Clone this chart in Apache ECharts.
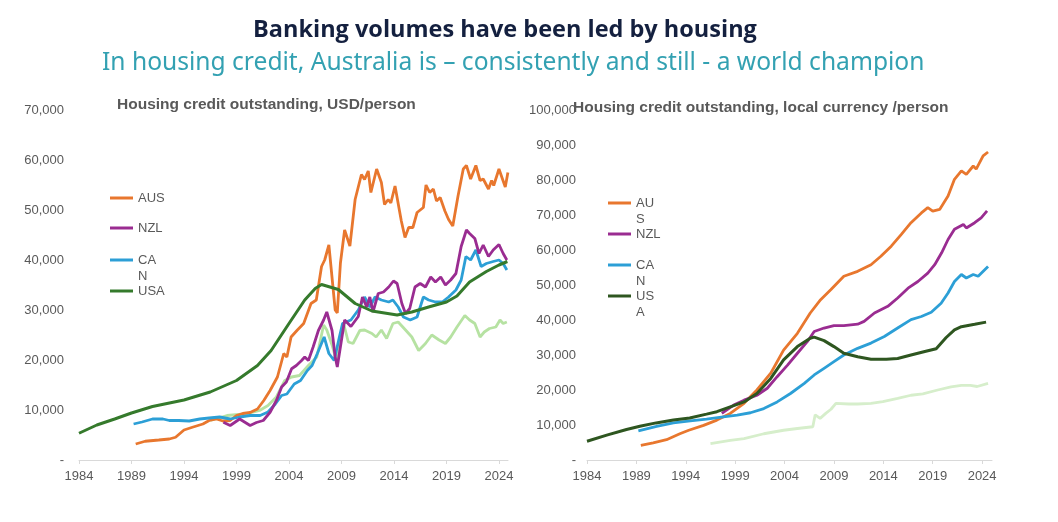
<!DOCTYPE html>
<html>
<head>
<meta charset="utf-8">
<script src="https://cdn.jsdelivr.net/npm/echarts@6/dist/echarts.min.js"></script>
<style>
  html, body { margin: 0; padding: 0; background: #fff; }
  #chart { width: 1058px; height: 522px; }
</style>
</head>
<body>
<div id="chart"></div>
<script>
// tick labels
var yearTicks = [1984, 1989, 1994, 1999, 2004, 2009, 2014, 2019, 2024];

// left chart: housing credit, USD per person  [year, value]
var ausUsd = [[1989.4,3200],[1990.3,3750],[1991.6,4000],[1992.6,4200],[1993.2,4550],[1994.0,6000],[1994.8,6550],[1995.8,7200],[1996.4,7900],[1997.1,8200],[1997.7,7800],[1998.4,7900],[1999.0,8900],[1999.6,9300],[2000.3,9500],[2001.0,10200],[2001.6,11900],[2002.2,13900],[2002.9,16600],[2003.5,21300],[2003.8,20600],[2004.2,24600],[2004.8,26000],[2005.4,27300],[2006.1,31300],[2006.6,32000],[2007.1,38700],[2007.4,40000],[2007.8,43000],[2008.4,30000],[2008.6,29400],[2008.9,39400],[2009.3,46000],[2009.8,42800],[2010.3,52100],[2010.9,57100],[2011.2,56100],[2011.55,57800],[2011.8,53500],[2012.35,58200],[2012.8,55500],[2013.1,51100],[2013.45,52100],[2013.7,51400],[2014.1,54800],[2014.7,47800],[2015.05,44500],[2015.4,46500],[2015.8,46500],[2016.2,49500],[2016.8,50500],[2017.05,55000],[2017.4,53500],[2017.75,54200],[2018.05,51800],[2018.4,52500],[2018.85,49800],[2019.2,48100],[2019.6,46800],[2020.1,52800],[2020.6,58200],[2020.9,58900],[2021.3,56200],[2021.8,58900],[2022.2,55900],[2022.5,56200],[2023.0,54200],[2023.3,55900],[2023.5,54900],[2024.0,58200],[2024.6,54600],[2024.85,57500]];
var nzlUsd = [[1997.75,7550],[1998.4,6900],[1999.3,8200],[2000.3,6900],[2000.9,7500],[2001.55,7900],[2002.2,9550],[2002.8,11900],[2003.3,14600],[2003.75,15600],[2004.25,18250],[2004.7,18900],[2005.2,19900],[2005.5,20600],[2005.85,19900],[2006.3,22600],[2006.8,25900],[2007.3,28000],[2007.6,29600],[2008.1,25900],[2008.4,20600],[2008.6,18600],[2009.3,28000],[2009.9,26700],[2010.6,28700],[2011.0,32600],[2011.4,30600],[2011.7,32600],[2012.0,29600],[2012.5,33300],[2013.0,33600],[2013.5,34600],[2013.95,35800],[2014.3,35300],[2014.75,31300],[2015.1,29300],[2015.5,30300],[2016.0,34600],[2016.5,35300],[2017.0,34600],[2017.5,36600],[2017.95,35600],[2018.45,36600],[2018.9,35000],[2019.4,36000],[2019.9,37300],[2020.4,42700],[2020.9,46000],[2021.2,45300],[2021.7,44300],[2022.1,41300],[2022.5,43000],[2023.0,40700],[2023.45,42000],[2024.0,43100],[2024.4,41300],[2024.75,40000]];
var canUsd = [[1989.2,7200],[1990.0,7600],[1991.0,8200],[1992.0,8200],[1992.6,7900],[1993.5,7900],[1994.5,7800],[1995.5,8200],[1996.4,8400],[1997.4,8600],[1998.4,8200],[1999.3,8600],[2000.3,8900],[2001.25,8900],[2002.0,9600],[2002.7,11200],[2003.3,12900],[2003.8,13200],[2004.5,15200],[2005.1,15900],[2005.75,17900],[2006.2,18900],[2006.7,21300],[2007.35,24600],[2007.8,21300],[2008.3,19900],[2008.8,24600],[2009.1,27300],[2009.9,28000],[2010.6,30000],[2011.2,32600],[2011.7,30600],[2012.2,32600],[2012.8,32000],[2013.5,31600],[2013.9,32000],[2014.4,30600],[2014.9,28600],[2015.55,28000],[2016.2,28600],[2016.8,32600],[2017.3,32000],[2017.95,31600],[2018.6,31600],[2019.2,32600],[2019.9,34000],[2020.4,36000],[2020.85,40700],[2021.3,40000],[2021.8,42000],[2022.3,38700],[2022.8,39300],[2023.45,39700],[2024.0,40000],[2024.4,39300],[2024.75,38000]];
var usaUsd = [[1984,5350],[1985.7,7000],[1987.4,8200],[1989,9400],[1991,10700],[1994,12000],[1996.5,13600],[1999,15900],[2001,18900],[2002.3,21900],[2004,27300],[2005.5,32000],[2006.5,34300],[2007.1,35100],[2008.7,34100],[2010.3,31300],[2011.9,29800],[2014.3,29000],[2015.7,29600],[2017.3,30600],[2019,31600],[2020,32800],[2021.2,35600],[2022.8,37700],[2024,39000],[2024.8,39700]];
var othUsd = [[1996.5,7900],[1998.1,8900],[2000.0,9250],[2001.2,9900],[2002.0,10900],[2002.8,12600],[2003.6,15900],[2004.25,16600],[2005.0,16900],[2005.85,18900],[2006.65,20600],[2007.3,27000],[2007.6,26000],[2008.1,23000],[2008.55,19600],[2009.2,27300],[2009.65,23600],[2010.1,23300],[2010.75,25900],[2011.2,26000],[2011.9,25300],[2012.3,24600],[2012.8,26000],[2013.3,24300],[2013.9,27300],[2014.4,27600],[2015.1,26000],[2015.7,24600],[2016.35,21900],[2017.0,23300],[2017.6,25000],[2018.3,24000],[2018.9,23300],[2019.4,24600],[2020.0,26600],[2020.75,28900],[2021.2,28000],[2021.7,27300],[2022.2,24600],[2022.6,25600],[2023.1,26300],[2023.7,26600],[2024.1,28000],[2024.4,27300],[2024.75,27600]];

// right chart: housing credit, local currency per person  [year, value]
var ausLoc = [[1989.45,4200],[1990.7,4900],[1992.05,5800],[1993.4,7500],[1994.3,8500],[1995.8,9900],[1997.15,11400],[1998.5,13300],[1999.9,16200],[2001.2,20000],[2002.6,24800],[2003.9,31400],[2005.3,36200],[2006.6,42000],[2007.65,45800],[2008.7,48700],[2010.0,52500],[2011.4,53900],[2012.75,55800],[2013.75,58200],[2014.8,61100],[2015.8,64400],[2016.8,67800],[2017.85,70600],[2018.5,72100],[2019.0,71100],[2019.7,71600],[2020.55,75400],[2021.2,80200],[2021.9,82600],[2022.4,81600],[2023.1,84000],[2023.4,83100],[2024.1,86900],[2024.6,88000]];
var nzlLoc = [[1997.65,13300],[1998.85,15700],[1999.9,17100],[2001.2,18500],[2002.25,20500],[2003.25,23800],[2004.3,27100],[2005.3,30500],[2006.3,33800],[2007.0,36700],[2008.0,37700],[2009.0,38400],[2010.0,38400],[2011.4,38800],[2012.05,39600],[2013.1,42000],[2014.45,43900],[2015.45,46300],[2016.5,49100],[2017.5,51000],[2018.5,53400],[2019.2,55800],[2019.9,59200],[2020.55,63000],[2021.2,65900],[2022.1,67300],[2022.4,66300],[2023.25,67800],[2023.9,69200],[2024.5,71200]];
var canLoc = [[1989.2,8300],[1991.05,9600],[1992.75,10600],[1994.45,11200],[1996.1,11700],[1997.8,12300],[1999.2,12800],[2000.55,13500],[2001.9,14700],[2003.25,16600],[2004.6,19000],[2006.0,21900],[2007.0,24300],[2008.0,26200],[2009.0,28100],[2010.0,30000],[2011.4,31900],[2012.75,33400],[2014.1,35300],[2015.45,37700],[2016.8,40100],[2017.85,41000],[2018.85,42200],[2019.85,44800],[2020.55,47700],[2021.2,51000],[2021.9,53000],[2022.4,52000],[2023.1,53000],[2023.6,52500],[2024.6,55300]];
var usaLoc = [[1984,5350],[1986,7100],[1988,8700],[1989.35,9650],[1991,10600],[1992.75,11400],[1994.4,12000],[1996.1,13100],[1997.15,13800],[1998.5,15200],[1999.9,16600],[2001.2,19000],[2002.6,23300],[2003.9,28600],[2005.3,32400],[2006.6,34800],[2007.0,35100],[2008.0,34100],[2009.0,32400],[2010.0,30500],[2011.4,29500],[2012.75,28800],[2014.3,28800],[2015.45,29000],[2016.8,30000],[2018.2,31000],[2019.35,31800],[2020.36,35000],[2021.2,37200],[2021.9,38100],[2023.25,38800],[2024.4,39400]];
var othLoc = [[1996.5,4700],[1998.5,5600],[1999.9,6100],[2001.9,7500],[2003.9,8500],[2005.3,9000],[2006.86,9500],[2007.1,12900],[2007.6,11900],[2008.2,13400],[2008.7,14500],[2009.2,16200],[2010.5,16000],[2011.4,16000],[2012.75,16200],[2013.95,16700],[2015.45,17600],[2016.8,18500],[2018.0,18900],[2019.5,20000],[2020.85,20900],[2021.9,21300],[2022.8,21300],[2023.5,21000],[2024.6,21900]];

var ORANGE = '#e8772e', PURPLE = '#9a2c91', BLUE = '#2c9fd6',
    GREEN_L = '#357a2c', GREEN_R = '#2e5620', PALE_L = '#b6e2a2', PALE_R = '#d6eecb';

var myChart = echarts.init(document.getElementById('chart'));

function yLabel (v) {
  return v === 0 ? '-' : v.toLocaleString('en-US');
}

function xAxisOpt (gridIndex, max) {
  return {
    type: 'value', gridIndex: gridIndex, min: 1984, max: max,
    axisLine: { lineStyle: { color: '#d9d9d9', width: 1 } },
    axisTick: { show: true, length: 4, customValues: yearTicks, lineStyle: { color: '#d9d9d9' } },
    axisLabel: {
      customValues: yearTicks, color: '#595959', fontSize: 13, margin: 10, fontFamily: 'Liberation Sans',
      formatter: function (v) { return String(v); }
    },
    splitLine: { show: false }
  };
}

function yAxisOpt (gridIndex, max, margin) {
  return {
    type: 'value', gridIndex: gridIndex, min: 0, max: max, interval: 10000,
    axisLine: { show: false }, axisTick: { show: false }, splitLine: { show: false },
    axisLabel: { formatter: yLabel, color: '#595959', fontSize: 13, margin: margin, fontFamily: 'Liberation Sans' }
  };
}

function line (name, data, color, width, idx) {
  return {
    type: 'line', name: name, data: data, xAxisIndex: idx, yAxisIndex: idx,
    showSymbol: false, symbol: 'none', smooth: false,
    lineStyle: { color: color, width: width }, itemStyle: { color: color },
    emphasis: { disabled: true }
  };
}

// legend boxes, one per item so the positions match the original.
// wrapped names get an empty first line so the icon sits on the first text line
function legendItem (name, label, color, left, top) {
  var text = label.indexOf('\n') >= 0 ? '\n' + label : label;
  return {
    left: left, top: top, orient: 'vertical', selectedMode: false, padding: 0,
    icon: 'rect', itemWidth: 23, itemHeight: 3, itemGap: 0,
    data: [{ name: name, itemStyle: { color: color } }],
    formatter: function () { return text; },
    textStyle: { color: '#595959', fontSize: 13, fontFamily: 'Liberation Sans', lineHeight: 16 },
    itemStyle: { color: color }
  };
}

var option = {
  animation: false,
  textStyle: { fontFamily: 'Liberation Sans' },
  title: [
    { text: 'Banking volumes have been led by housing', left: 253, top: 18, padding: 0,
      textStyle: { color: '#14203f', fontSize: 23.5, fontWeight: 'bold', fontFamily: 'Open Sans' } },
    { text: 'In housing credit, Australia is \u2013 consistently and still - a world champion', left: 102, top: 50, padding: 0,
      textStyle: { color: '#33a1b2', fontSize: 24.6, fontWeight: 'normal', fontFamily: 'Noto Sans' } },
    { text: 'Housing credit outstanding, USD/person', left: 117, top: 97, padding: 0,
      textStyle: { color: '#595959', fontSize: 15.5, fontWeight: 'bold', fontFamily: 'Liberation Sans' } },
    { text: 'Housing credit outstanding, local currency /person', left: 573, top: 100, padding: 0,
      textStyle: { color: '#595959', fontSize: 15.5, fontWeight: 'bold', fontFamily: 'Liberation Sans' } }
  ],
  legend: [
    legendItem('AUS', 'AUS', ORANGE, 110, 190),
    legendItem('NZL', 'NZL', PURPLE, 110, 220),
    legendItem('CAN', 'CA\nN', BLUE, 110, 236),
    legendItem('USA', 'USA', GREEN_L, 110, 283),
    legendItem('AUS', 'AU\nS', ORANGE, 608, 179),
    legendItem('NZL', 'NZL', PURPLE, 608, 226),
    legendItem('CAN', 'CA\nN', BLUE, 608, 241),
    legendItem('USA', 'US\nA', GREEN_R, 608, 272)
  ],
  grid: [
    { left: 79, top: 110, width: 429, height: 350 },
    { left: 587, top: 110, width: 405, height: 350 }
  ],
  xAxis: [xAxisOpt(0, 2024.86), xAxisOpt(1, 2025.0)],
  yAxis: [yAxisOpt(0, 70000, 15), yAxisOpt(1, 100000, 11)],
  series: [
    line('other', othUsd, PALE_L, 2.8, 0),
    line('AUS', ausUsd, ORANGE, 2.8, 0),
    line('CAN', canUsd, BLUE, 2.8, 0),
    line('NZL', nzlUsd, PURPLE, 2.8, 0),
    line('USA', usaUsd, GREEN_L, 3, 0),
    line('other', othLoc, PALE_R, 2.8, 1),
    line('AUS', ausLoc, ORANGE, 2.8, 1),
    line('NZL', nzlLoc, PURPLE, 2.8, 1),
    line('CAN', canLoc, BLUE, 2.8, 1),
    line('USA', usaLoc, GREEN_R, 3, 1)
  ]
};

myChart.setOption(option);

window.addEventListener('resize', function () {
  myChart.resize();
});
</script>
</body>
</html>
